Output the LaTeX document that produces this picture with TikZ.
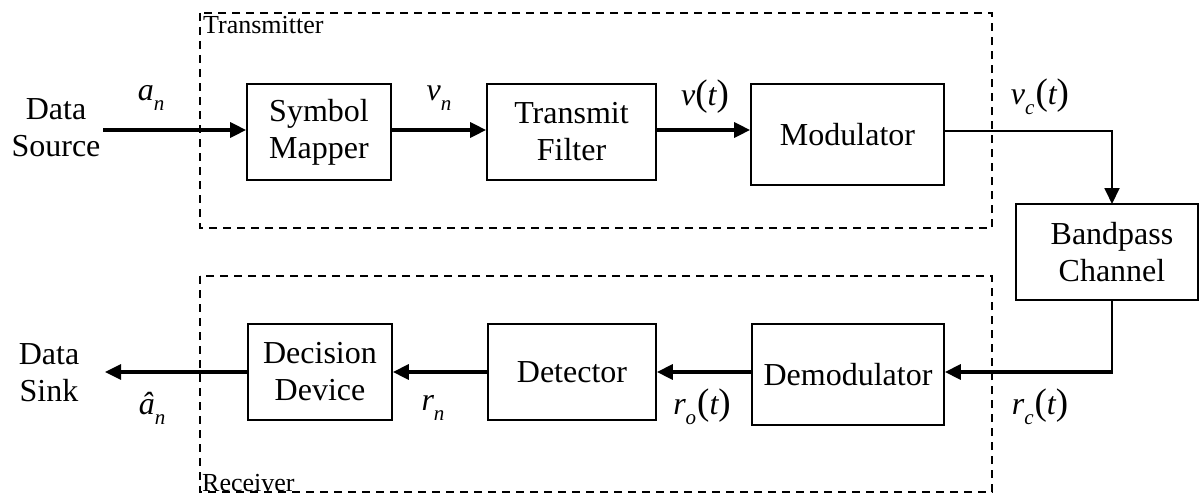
\documentclass[tikz,border=0pt]{standalone}
\usepackage{fontspec}
\setmainfont{Liberation Serif}
\usetikzlibrary{arrows.meta}
\newcommand{\sig}[2]{{\itshape #1}\raisebox{-0.32em}{\fontsize{21}{21}\selectfont\itshape #2}}
\newcommand{\sigt}[2]{{\itshape #1}\raisebox{-0.32em}{\fontsize{21}{21}\selectfont\itshape #2}\kern1pt{\fontsize{37}{37}\selectfont(}{\itshape t}{\fontsize{37}{37}\selectfont)}}
\begin{document}
\begin{tikzpicture}[x=1pt,y=-1pt,
  blk/.style={draw,line width=1.7pt,align=center,inner sep=0pt,font=\fontsize{32}{37}\selectfont},
  txt/.style={align=center,inner sep=0pt,font=\fontsize{32}{37}\selectfont},
  lbl/.style={inner sep=0pt,font=\fontsize{32}{37}\selectfont},
  grp/.style={draw,line width=1.7pt,dash pattern=on 8pt off 6pt},
  grplbl/.style={inner sep=0pt,font=\fontsize{26}{28}\selectfont},
  arr/.style={line width=3.2pt,-{Triangle[length=16pt,width=15pt]}},
  tarr/.style={line width=1.9pt,line join=miter,-{Triangle[length=16pt,width=15pt]}},
  ln/.style={line width=1.9pt,line join=miter}]
\useasboundingbox (0,0) rectangle (1199,495);
% groups
\draw[grp] (200,13) rectangle (992,228);
\draw[grp] (200,276) rectangle (992,492);
\node[grplbl,anchor=base west] (tx) at (203,34) {Transmitter};
\node[grplbl,anchor=base west] (rx) at (202,491) {Receiver};
% top row
\node[txt] (src) at (56,128) {Data\\Source};
\node[blk,minimum width=144pt,minimum height=96pt] (map) at (319,132) {Symbol\\Mapper};
\node[blk,minimum width=169pt,minimum height=96pt] (tf) at (571.5,132) {Transmit\\Filter};
\node[blk,minimum width=193pt,minimum height=101pt] (mod) at (847.5,134.5) {Modulator};
\node[blk,minimum width=182pt,minimum height=96pt] (bp) at (1107,252) {\hspace*{10pt}Bandpass\\\hspace*{10pt}Channel};
% bottom row
\node[txt] (snk) at (49,373) {Data\\Sink};
\node[blk,minimum width=144pt,minimum height=96pt] (dd) at (320,372) {Decision\\Device};
\node[blk,minimum width=168pt,minimum height=96pt] (det) at (572,372) {Detector};
\node[blk,minimum width=192pt,minimum height=101pt] (dem) at (848,374.5) {Demodulator};
% coordinates
\coordinate (srcR) at (103,130);
\coordinate (snkR) at (105,372);
\coordinate (c1) at (1112,131);
\coordinate (c2) at (1112,204);
\coordinate (c3) at (1112,300);
\coordinate (c4) at (1112,372);
% connectors
\draw[arr] (srcR) -- (map.west |- srcR);
\draw[arr] (map.east |- srcR) -- (tf.west |- srcR);
\draw[arr] (tf.east |- srcR) -- (mod.west |- srcR);
\draw[tarr] (mod.east |- c1) -- (c1) -- (c2);
\draw[ln] (c3) -- (c4) -- ([xshift=-1pt]c4);
\draw[arr] ([xshift=0.5pt]c4) -- (dem.east |- c4);
\draw[arr] (dem.west |- c4) -- (det.east |- c4);
\draw[arr] (det.west |- c4) -- (dd.east |- c4);
\draw[arr] (dd.west |- c4) -- (snkR);
% labels
\node[lbl] (la) at (151,98) {\sig{a}{n}};
\node[lbl] (lv) at (439,98) {\sig{v}{n}};
\node[lbl] (lvt) at (705,97) {{\itshape v}{\fontsize{37}{37}\selectfont(}{\itshape t}{\fontsize{37}{37}\selectfont)}};
\node[lbl] (lvc) at (1040,97) {\sigt{v}{c}};
\node[lbl] (lrc) at (1040,407) {\sigt{r}{c}};
\node[lbl] (lro) at (702,407) {\sigt{r}{o}};
\node[lbl] (lrn) at (433,408) {\sig{r}{n}};
\node[lbl] (lah) at (152,408) {{\itshape\^a}\raisebox{-0.32em}{\fontsize{21}{21}\selectfont\itshape n}};
\end{tikzpicture}
\end{document}
